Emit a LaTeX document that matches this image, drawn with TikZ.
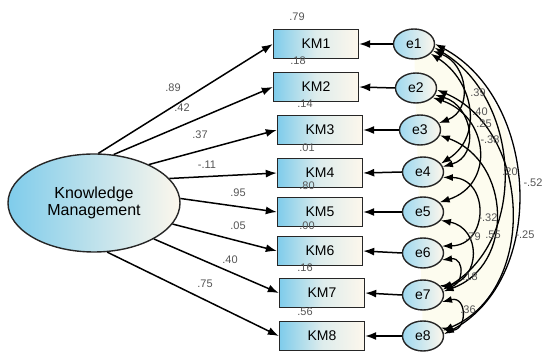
\documentclass[tikz,border=0pt]{standalone}
\usepackage{fontspec}
\setmainfont{Liberation Sans}
\usetikzlibrary{arrows.meta,shapes.geometric,backgrounds}
\definecolor{kmblue}{HTML}{7FCCEB}
\definecolor{kmcream}{HTML}{FDF7EC}
\definecolor{covbg}{HTML}{FDFCEF}
\definecolor{lbl}{HTML}{555555}
\tikzset{
  obs/.style={draw=black!85, line width=1.4pt, minimum width=85pt, minimum height=29pt,
    inner sep=0pt, left color=kmblue, right color=kmcream, middle color=kmcream!75!kmblue,
    font=\fontsize{14}{14}\selectfont},
  err/.style={ellipse, draw=black!85, line width=1.4pt, minimum width=41pt, minimum height=30pt,
    inner sep=0pt, left color=kmblue!75, right color=kmcream, font=\fontsize{14}{14}\selectfont},
  lat/.style={ellipse, draw=black!85, line width=1.4pt, minimum width=172pt, minimum height=98pt,
    inner sep=0pt, align=center, left color=kmblue, right color=kmcream,
    font=\fontsize{16}{17}\selectfont},
  load/.style={line width=1.5pt, -{Latex[length=11pt,width=8pt]}},
  errpath/.style={line width=1.5pt, -{Latex[length=11pt,width=8pt]}},
  cov/.style={line width=1.3pt, {Latex[length=10pt,width=7pt]}-{Latex[length=10pt,width=7pt]}},
  coef/.style={text=lbl, font=\fontsize{11}{11}\selectfont, inner sep=0pt}
}
\begin{document}
\begin{tikzpicture}[x=1pt,y=-1pt]
\useasboundingbox (0,0) rectangle (542,352);

% latent factor
\node[lat] (KMg) at (94,203) {Knowledge\\Management};

% indicators
\node[obs] (km1) at (316,44)  {KM1};
\node[obs] (km2) at (316,87)  {KM2};
\node[obs] (km3) at (320,130) {KM3};
\node[obs] (km4) at (320,173) {KM4};
\node[obs] (km5) at (320,212) {KM5};
\node[obs] (km6) at (320,251) {KM6};
\node[obs] (km7) at (322,293) {KM7};
\node[obs] (km8) at (322,336) {KM8};

% error terms
\node[err] (e1) at (414,44)  {e1};
\node[err] (e2) at (416,88)  {e2};
\node[err] (e3) at (420,130) {e3};
\node[err] (e4) at (423,172) {e4};
\node[err] (e5) at (423,212) {e5};
\node[err] (e6) at (423,253) {e6};
\node[err] (e7) at (423,295) {e7};
\node[err] (e8) at (423,336) {e8};

% pale area enclosed by the widest covariance arc
\begin{scope}[on background layer]
  \fill[covbg] (e1.0) to[out=-28,in=28,distance=118pt] (e8.5) -- (e8.center) -- (e1.center) -- cycle;
\end{scope}

% factor loadings
\draw[load] (KMg.85)  -- (km1.west);
\draw[load] (KMg.68)  -- (km2.west);
\draw[load] (KMg.35)  -- (km3.west);
\draw[load] (KMg.18)  -- (km4.west);
\draw[load] (KMg.3)   -- (km5.west);
\draw[load] (KMg.-15) -- (km6.west);
\draw[load] (KMg.-31) -- (km7.west);
\draw[load] (KMg.-75) -- (km8.west);

\node[coef] (l1) at (173,88)  {.89};
\node[coef] (l2) at (182,108) {.42};
\node[coef] (l3) at (200,135) {.37};
\node[coef] (l4) at (207,165) {-.11};
\node[coef] (l5) at (238,193) {.95};
\node[coef] (l6) at (238,226) {.05};
\node[coef] (l7) at (230,260) {.40};
\node[coef] (l8) at (205,284) {.75};

% error paths
\foreach \i in {1,...,8} \draw[errpath] (e\i.west) -- (km\i.east);

% squared multiple correlations
\node[coef] (r1) at (297,17)  {.79};
\node[coef] (r2) at (298,61)  {.18};
\node[coef] (r3) at (305,104) {.14};
\node[coef] (r4) at (307,148) {.01};
\node[coef] (r5) at (307,186) {.80};
\node[coef] (r6) at (307,226) {.00};
\node[coef] (r7) at (305,268) {.16};
\node[coef] (r8) at (305,312) {.56};

% error covariances
\draw[cov] (e1.-20) to[out=-21,in=21,distance=37pt]  (e3.20);
\draw[cov] (e1.-30) to[out=-33,in=33,distance=51pt]  (e4.25);
\draw[cov] (e2.-20) to[out=-16,in=16,distance=39pt]  (e4.15);
\draw[cov] (e2.-30) to[out=-18,in=18,distance=59pt]  (e5.30);
\draw[cov] (e1.-10) to[out=-31,in=31,distance=100pt] (e7.15);
\draw[cov] (e1.0)   to[out=-28,in=28,distance=118pt] (e8.5);
\draw[cov] (e4.-15) to[out=-1,in=1,distance=47pt]    (e6.20);
\draw[cov] (e5.-25) to[out=-11,in=11,distance=41pt]  (e7.25);
\draw[cov] (e3.-15) to[out=-20,in=20,distance=76pt]  (e7.10);
\draw[cov] (e2.-5)  to[out=-23,in=23,distance=103pt] (e8.15);
\draw[cov] (e6.-20) to[out=7,in=-7,distance=24pt]    (e7.30);
\draw[cov] (e7.-20) to[out=14,in=-14,distance=27pt]  (e8.25);

\node[coef] (c1)  at (478,93)  {.39};
\node[coef] (c2)  at (480,112) {.40};
\node[coef] (c3)  at (484,124) {.25};
\node[coef] (c4)  at (490,140) {-.38};
\node[coef] (c5)  at (510,172) {.20};
\node[coef] (c6)  at (533,183) {-.52};
\node[coef] (c7)  at (488,218) {-.32};
\node[coef] (c8)  at (473,237) {.79};
\node[coef] (c9)  at (493,235) {.55};
\node[coef] (c10) at (525,235) {-.25};
\node[coef] (c11) at (470,277) {.18};
\node[coef] (c12) at (468,310) {.36};
\end{tikzpicture}
\end{document}
